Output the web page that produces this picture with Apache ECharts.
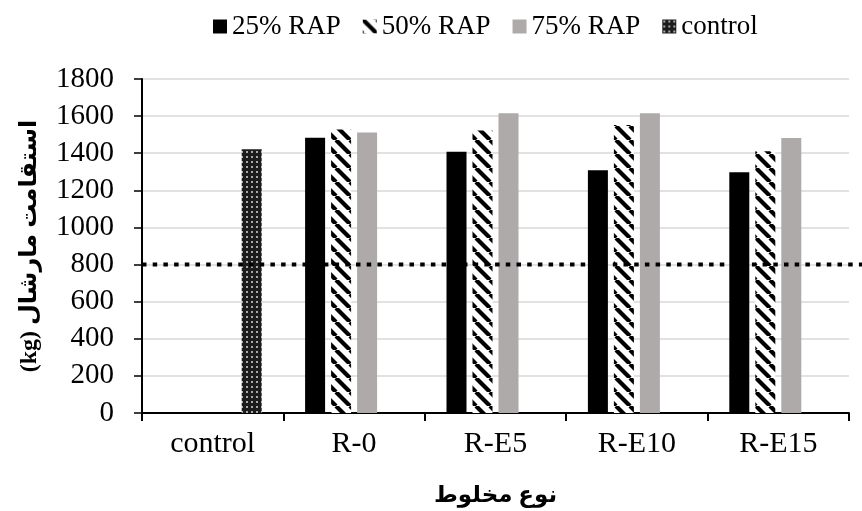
<!DOCTYPE html>
<html>
<head>
<meta charset="utf-8">
<script src="https://cdn.jsdelivr.net/npm/echarts@6/dist/echarts.min.js"></script>
<style>html,body{margin:0;padding:0;background:#fff}#c{width:862px;height:511px}</style>
</head>
<body>
<div id="c"></div>
<script>
var categories = ['control', 'R-0', 'R-E5', 'R-E10', 'R-E15'];
var seriesNames = ['25% RAP', '50% RAP', '75% RAP', 'control'];
var rap25 = ['-', 1483, 1408, 1308, 1298];
var rap50 = ['-', 1528, 1523, 1552, 1410];
var rap75 = ['-', 1512, 1615, 1615, 1482];
var controlVals = [1421, '-', '-', '-', '-'];
var threshold = [800, 800];
var yTicks = [0, 200, 400, 600, 800, 1000, 1200, 1400, 1600, 1800];

function hatch() {
  var s = 14, c = document.createElement('canvas');
  c.width = s; c.height = s;
  var g = c.getContext('2d');
  g.fillStyle = '#fff'; g.fillRect(0, 0, s, s);
  g.strokeStyle = '#000'; g.lineWidth = 4.2;
  [-s, 0, s].forEach(function (k) {
    g.beginPath(); g.moveTo(k, 0); g.lineTo(k + s, s); g.stroke();
  });
  return c;
}
function dots() {
  var c = document.createElement('canvas');
  c.width = 5; c.height = 5;
  var g = c.getContext('2d');
  g.fillStyle = '#1c1c1c'; g.fillRect(0, 0, 5, 5);
  g.fillStyle = '#a8a8a8'; g.fillRect(1, 1, 2, 2);
  return c;
}

var serif = "'Liberation Serif', 'DejaVu Serif', serif";
var arab = "'Liberation Serif', 'DejaVu Sans', sans-serif";
var chart = echarts.init(document.getElementById('c'), null, {renderer: 'canvas'});
var colors = ['#000000', {image: hatch(), repeat: 'repeat'}, '#aeaaaa', {image: dots(), repeat: 'repeat'}];
var vals = [rap25, rap50, rap75, controlVals];

var series = vals.map(function (v, i) {
  return {
    name: seriesNames[i], type: 'bar', xAxisIndex: 0, yAxisIndex: 0,
    data: v, barWidth: 20, barGap: '30%',
    itemStyle: {color: colors[i]}
  };
});
series.push({
  name: 'limit', type: 'line', xAxisIndex: 1, yAxisIndex: 1,
  data: [[0, threshold[0]], [1, threshold[1]]], symbol: 'none', z: 10,
  lineStyle: {color: '#000', width: 4, type: [4.5, 6.2], cap: 'butt'},
  silent: true
});

chart.setOption({
  animation: false,
  legend: {
    data: seriesNames, left: 208, top: 8, itemWidth: 14, itemHeight: 14, itemGap: 22,
    icon: 'rect',
    textStyle: {fontFamily: serif, fontSize: 27, color: '#000'}
  },
  grid: [
    {left: 142, right: 13, top: 79, bottom: 98, outerBoundsMode: 'none', containLabel: false},
    {left: 142, right: 0, top: 79, bottom: 98, outerBoundsMode: 'none', containLabel: false}
  ],
  xAxis: [{
    type: 'category', data: categories, gridIndex: 0,
    axisLine: {lineStyle: {color: '#000', width: 2}},
    axisTick: {show: true, length: 8, lineStyle: {color: '#000', width: 2}, interval: 0},
    axisLabel: {fontFamily: serif, fontSize: 30, color: '#000', margin: 16, interval: 0},
    name: 'نوع مخلوط', nameLocation: 'middle', nameGap: 72,
    nameTextStyle: {fontFamily: arab, fontSize: 23, fontWeight: 'bold', color: '#000'}
  }, {
    type: 'value', gridIndex: 1, min: 0, max: 1, show: false
  }],
  yAxis: [{
    type: 'value', gridIndex: 0, min: yTicks[0], max: yTicks[yTicks.length - 1], interval: 200,
    axisLine: {show: true, lineStyle: {color: '#000', width: 2}},
    axisTick: {show: true, length: 8, lineStyle: {color: '#000', width: 1.5}},
    axisLabel: {fontFamily: serif, fontSize: 29, color: '#000', margin: 28,
      formatter: function (v) { return String(v); }},
    splitLine: {lineStyle: {color: '#d9d9d9', width: 1.5}},
    name: '(kg) استقامت مارشال', nameLocation: 'middle', nameGap: 100, nameRotate: 90,
    nameTextStyle: {fontFamily: arab, fontSize: 24, fontWeight: 'bold', color: '#000'}
  }, {
    type: 'value', gridIndex: 1, min: 0, max: 1800, show: false
  }],
  series: series
});
</script>
</body>
</html>
